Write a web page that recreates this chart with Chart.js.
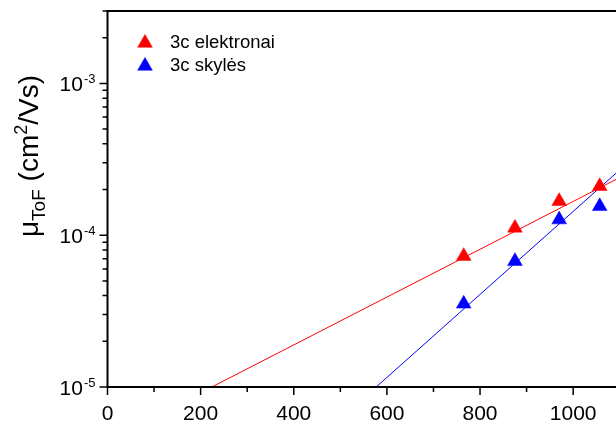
<!DOCTYPE html>
<html>
<head>
<meta charset="utf-8">
<script src="https://cdn.jsdelivr.net/npm/chart.js@4.4.1/dist/chart.umd.min.js"></script>
<style>
  html, body { margin: 0; padding: 0; background: #fff; overflow: hidden; }
  #wrap { width: 616px; height: 423px; position: relative; }
</style>
</head>
<body>
<div id="wrap"><canvas id="mobilityChart"></canvas></div>
<script>
// values
const fieldX = [765, 875, 970, 1057];
const electronMu = [7.28e-5, 1.117e-4, 1.675e-4, 2.10e-4];
const holeMu = [3.53e-5, 6.74e-5, 1.267e-4, 1.55e-4];

// fitted lines (end points as seen in the plot)
const electronFitX = [224, 1092];
const electronFitMu = [1e-5, 2.33e-4];
const holeFitX = [577, 1092];
const holeFitMu = [1e-5, 2.56e-4];

const xMajorTicks = [0, 200, 400, 600, 800, 1000];
const xMinorTicks = [100, 300, 500, 700, 900];
const yMajorExp = [-5, -4, -3];
const yMinorMantissa = [2, 3, 4, 5, 6, 7, 8, 9];

const seriesNames = ['3c elektronai', '3c skylės'];
const FONT = '"Liberation Sans", Arial, sans-serif';

const toPoints = (xs, ys) => xs.map((x, i) => ({ x, y: ys[i] }));

// axes, ticks, labels and legend drawn Origin-style
const framePlugin = {
  id: 'frame',
  afterDatasetsDraw(chart) {
    const { ctx, chartArea: area, scales: { x, y } } = chart;
    ctx.save();
    ctx.strokeStyle = '#000';
    ctx.fillStyle = '#000';

    // frame lines
    ctx.lineWidth = 2;
    ctx.beginPath();
    ctx.moveTo(area.left, area.top);
    ctx.lineTo(chart.width, area.top);
    ctx.moveTo(area.left, area.top - 1);
    ctx.lineTo(area.left, area.bottom + 1);
    ctx.moveTo(area.left - 1, area.bottom);
    ctx.lineTo(chart.width, area.bottom);
    ctx.stroke();

    // x ticks
    ctx.lineWidth = 1.5;
    ctx.beginPath();
    xMajorTicks.forEach(v => {
      const px = x.getPixelForValue(v);
      ctx.moveTo(px, area.bottom); ctx.lineTo(px, area.bottom + 8);
    });
    xMinorTicks.forEach(v => {
      const px = x.getPixelForValue(v);
      ctx.moveTo(px, area.bottom); ctx.lineTo(px, area.bottom + 5);
    });
    // y ticks
    yMajorExp.forEach(e => {
      const py = y.getPixelForValue(Math.pow(10, e));
      ctx.moveTo(area.left, py); ctx.lineTo(area.left - 8, py);
      yMinorMantissa.forEach(m => {
        const v = m * Math.pow(10, e);
        if (v > y.max) return;
        const pm = y.getPixelForValue(v);
        ctx.moveTo(area.left, pm); ctx.lineTo(area.left - 5, pm);
      });
    });
    ctx.stroke();

    // x tick labels
    ctx.font = '21px ' + FONT;
    ctx.textAlign = 'center';
    ctx.textBaseline = 'alphabetic';
    xMajorTicks.forEach(v => {
      ctx.fillText(String(v), x.getPixelForValue(v), 420);
    });

    // y tick labels 10^n
    yMajorExp.forEach(e => {
      const py = y.getPixelForValue(Math.pow(10, e));
      ctx.font = '13px ' + FONT;
      const sup = String(e);
      const supW = ctx.measureText(sup).width;
      const right = area.left - 12;
      ctx.textAlign = 'left';
      ctx.fillText(sup, right - supW, py);
      ctx.font = '21px ' + FONT;
      const baseW = ctx.measureText('10').width;
      ctx.fillText('10', right - supW - baseW - 1, py + 8);
    });

    // y axis title: mu_ToF (cm^2/Vs)
    const parts = [
      { t: 'μ', size: 28, dy: 0 },
      { t: 'ToF', size: 19, dy: 7 },
      { t: ' (cm', size: 28, dy: 0 },
      { t: '2', size: 18, dy: -11 },
      { t: '/Vs)', size: 28, dy: 0 }
    ];
    let total = 0;
    parts.forEach(p => { ctx.font = p.size + 'px ' + FONT; p.w = ctx.measureText(p.t).width; total += p.w; });
    ctx.translate(38, 156);
    ctx.rotate(-Math.PI / 2);
    ctx.textAlign = 'left';
    let cx = -total / 2;
    parts.forEach(p => {
      ctx.font = p.size + 'px ' + FONT;
      ctx.fillText(p.t, cx, p.dy);
      cx += p.w;
    });
    ctx.restore();

    // legend
    ctx.save();
    const legendRows = [
      { name: seriesNames[0], color: chart.data.datasets[0].backgroundColor, y: 43 },
      { name: seriesNames[1], color: chart.data.datasets[1].backgroundColor, y: 66 }
    ];
    legendRows.forEach(r => {
      ctx.fillStyle = r.color;
      ctx.strokeStyle = r.color;
      ctx.lineWidth = 0.5;
      Chart.helpers.drawPoint(ctx, { pointStyle: 'triangle', radius: 8.5, borderWidth: 0.5 }, 145, r.y);
      ctx.fillStyle = '#000';
      ctx.font = '18.5px ' + FONT;
      ctx.textAlign = 'left';
      ctx.textBaseline = 'middle';
      ctx.fillText(r.name, 170, r.y);
    });
    ctx.restore();
  }
};

new Chart(document.getElementById('mobilityChart'), {
  type: 'scatter',
  data: {
    datasets: [
      {
        label: seriesNames[0],
        data: toPoints(fieldX, electronMu),
        pointStyle: 'triangle',
        pointRadius: 8.5,
        backgroundColor: '#ff0000',
        borderColor: '#ff0000',
        borderWidth: 0.5,
        order: 0
      },
      {
        label: seriesNames[1],
        data: toPoints(fieldX, holeMu),
        pointStyle: 'triangle',
        pointRadius: 8.5,
        backgroundColor: '#0000ff',
        borderColor: '#0000ff',
        borderWidth: 0.5,
        order: 0
      },
      {
        type: 'line',
        label: 'fit e',
        data: toPoints(electronFitX, electronFitMu),
        borderColor: '#ff0000',
        borderWidth: 1,
        pointRadius: 0,
        fill: false,
        order: 1
      },
      {
        type: 'line',
        label: 'fit h',
        data: toPoints(holeFitX, holeFitMu),
        borderColor: '#0000ff',
        borderWidth: 1,
        pointRadius: 0,
        fill: false,
        order: 1
      }
    ]
  },
  options: {
    responsive: true,
    maintainAspectRatio: false,
    animation: false,
    layout: { autoPadding: false, padding: { top: 11, right: 0, bottom: 0, left: 0 } },
    plugins: { legend: { display: false }, tooltip: { enabled: false } },
    scales: {
      x: {
        type: 'linear',
        min: 0,
        max: 1092,
        grid: { display: false },
        border: { display: false },
        ticks: { display: false },
        afterFit: s => { s.height = 36; }
      },
      y: {
        type: 'logarithmic',
        min: 1e-5,
        max: 3e-3,
        grid: { display: false },
        border: { display: false },
        ticks: { display: false },
        afterFit: s => { s.width = 107.5; }
      }
    }
  },
  plugins: [framePlugin]
});
</script>
</body>
</html>
